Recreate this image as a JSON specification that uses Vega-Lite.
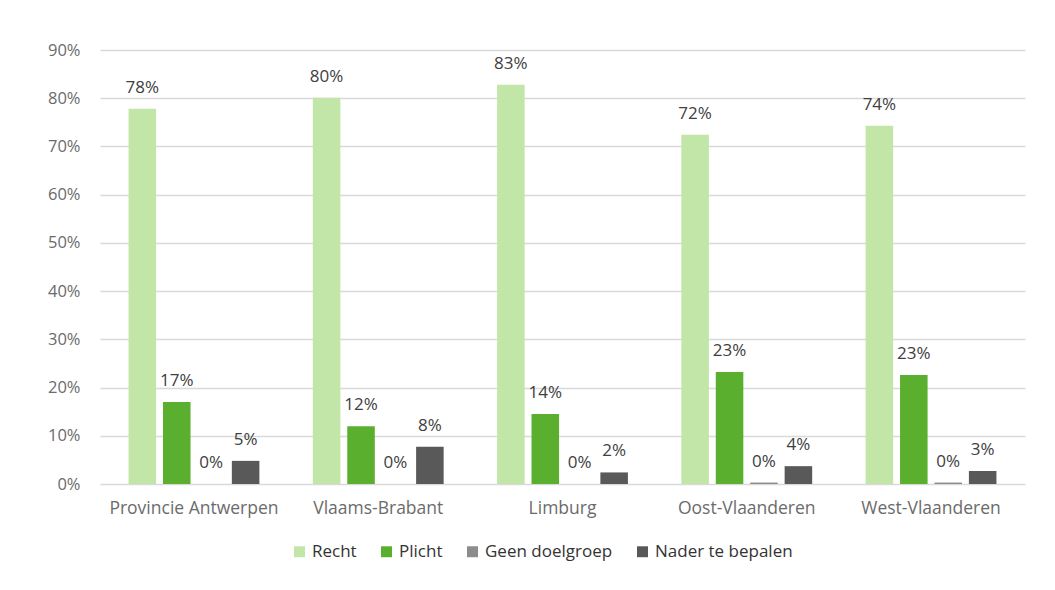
{
  "$schema": "https://vega.github.io/schema/vega-lite/v6.json",
  "width": 925,
  "height": 434,
  "autosize": {"type": "none"},
  "padding": {"left": 100, "top": 50, "right": 30, "bottom": 106},
  "background": "white",
  "config": {
    "view": {"stroke": null},
    "font": "Open Sans"
  },
  "data": {
    "values": [
      {"region": "Provincie Antwerpen", "cat": "Recht", "value": 0.778},
      {"region": "Provincie Antwerpen", "cat": "Plicht", "value": 0.17},
      {"region": "Provincie Antwerpen", "cat": "Geen doelgroep", "value": 0.0},
      {"region": "Provincie Antwerpen", "cat": "Nader te bepalen", "value": 0.048},
      {"region": "Vlaams-Brabant", "cat": "Recht", "value": 0.801},
      {"region": "Vlaams-Brabant", "cat": "Plicht", "value": 0.12},
      {"region": "Vlaams-Brabant", "cat": "Geen doelgroep", "value": 0.0},
      {"region": "Vlaams-Brabant", "cat": "Nader te bepalen", "value": 0.077},
      {"region": "Limburg", "cat": "Recht", "value": 0.828},
      {"region": "Limburg", "cat": "Plicht", "value": 0.145},
      {"region": "Limburg", "cat": "Geen doelgroep", "value": 0.0},
      {"region": "Limburg", "cat": "Nader te bepalen", "value": 0.024},
      {"region": "Oost-Vlaanderen", "cat": "Recht", "value": 0.724},
      {"region": "Oost-Vlaanderen", "cat": "Plicht", "value": 0.232},
      {"region": "Oost-Vlaanderen", "cat": "Geen doelgroep", "value": 0.003},
      {"region": "Oost-Vlaanderen", "cat": "Nader te bepalen", "value": 0.037},
      {"region": "West-Vlaanderen", "cat": "Recht", "value": 0.743},
      {"region": "West-Vlaanderen", "cat": "Plicht", "value": 0.226},
      {"region": "West-Vlaanderen", "cat": "Geen doelgroep", "value": 0.003},
      {"region": "West-Vlaanderen", "cat": "Nader te bepalen", "value": 0.027}
    ]
  },
  "encoding": {
    "x": {
      "field": "region",
      "type": "nominal",
      "sort": null,
      "scale": {"paddingInner": 0.29, "paddingOuter": 0.155},
      "axis": {
        "title": null,
        "labelAngle": 0,
        "labelFontSize": 17.5,
        "labelColor": "#6b6b6b",
        "labelPadding": 15,
        "ticks": false,
        "domain": false
      }
    },
    "xOffset": {
      "field": "cat",
      "type": "nominal",
      "sort": ["Recht", "Plicht", "Geen doelgroep", "Nader te bepalen"],
      "scale": {"paddingInner": 0.2}
    },
    "y": {
      "field": "value",
      "type": "quantitative",
      "scale": {"domain": [0, 0.9]},
      "axis": {
        "title": null,
        "format": ".0%",
        "values": [0, 0.1, 0.2, 0.3, 0.4, 0.5, 0.6, 0.7, 0.8, 0.9],
        "labelFontSize": 16.5,
        "labelColor": "#6b6b6b",
        "labelPadding": 20,
        "ticks": false,
        "domain": false,
        "gridColor": "#d9d9d9",
        "gridWidth": 1.5
      }
    }
  },
  "layer": [
    {
      "mark": {"type": "bar"},
      "encoding": {
        "color": {
          "field": "cat",
          "type": "nominal",
          "sort": ["Recht", "Plicht", "Geen doelgroep", "Nader te bepalen"],
          "scale": {
            "domain": ["Recht", "Plicht", "Geen doelgroep", "Nader te bepalen"],
            "range": ["#c1e6a8", "#5aaf2f", "#8c8c8c", "#595959"]
          },
          "legend": {
            "title": null,
            "orient": "none",
            "legendX": 191,
            "legendY": 493,
            "direction": "horizontal",
            "symbolType": "square",
            "symbolSize": 120,
            "symbolStrokeWidth": 0,
            "labelFontSize": 17,
            "labelColor": "#333333",
            "columnPadding": 21,
            "labelOffset": 4
          }
        }
      }
    },
    {
      "mark": {"type": "text", "baseline": "middle", "dy": -21, "fontSize": 17, "color": "#404040"},
      "encoding": {
        "text": {"field": "value", "type": "quantitative", "format": ".0%"}
      }
    }
  ]
}
